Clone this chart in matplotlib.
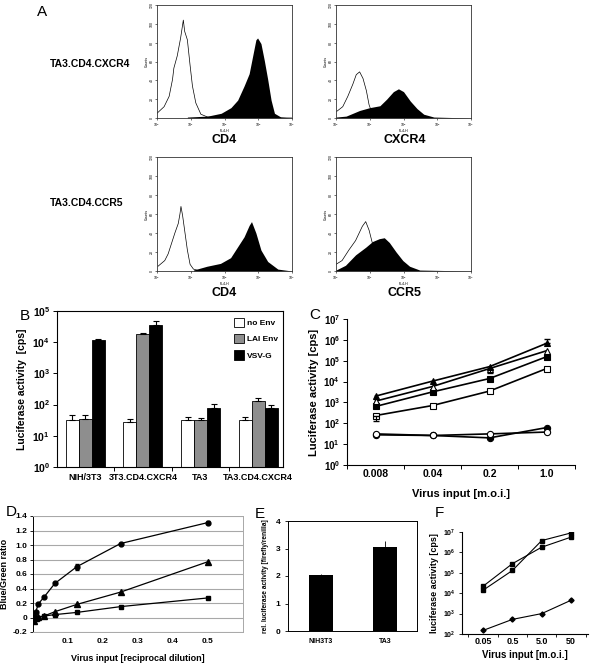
import numpy as np
import matplotlib
matplotlib.use('Agg')
import matplotlib.pyplot as plt
from matplotlib.patches import Patch
from matplotlib.ticker import FixedLocator, NullLocator

plt.rcParams['font.family'] = ['Liberation Sans', 'DejaVu Sans']
plt.rcParams['mathtext.fontset'] = 'custom'
plt.rcParams['mathtext.rm'] = 'Liberation Sans:bold'
plt.rcParams['mathtext.it'] = 'Liberation Sans:bold'
plt.rcParams['mathtext.bf'] = 'Liberation Sans:bold'
plt.rcParams['axes.linewidth'] = 0.8

# ---------------- data ----------------
# Panel A: flow cytometry histograms (log10 fluorescence, counts)
tl_open_logx = [0, 0.21, 0.36, 0.46, 0.50, 0.60, 0.70, 0.78, 0.82, 0.90, 0.98, 1.05, 1.15, 1.30, 1.50, 4.0]
tl_open_cnt = [5, 12, 23, 41, 53, 66, 85, 104, 92, 83, 56, 34, 16, 4, 1, 0]
tl_fill_logx = [0.9, 1.5, 1.9, 2.19, 2.39, 2.58, 2.73, 2.83, 2.93, 2.98, 3.08, 3.18, 3.28, 3.38, 3.48, 3.67, 4.0]
tl_fill_cnt = [1, 2, 5, 11, 19, 34, 47, 65, 83, 85, 79, 61, 41, 19, 5, 1, 0]

tr_open_logx = [0.02, 0.2, 0.35, 0.5, 0.6, 0.7, 0.8, 0.9, 0.98, 1.05, 1.2, 1.4]
tr_open_cnt = [7, 12, 23, 36, 46, 49, 42, 29, 14, 7, 2, 0]
tr_fill_logx = [0, 0.3, 0.7, 1.0, 1.3, 1.5, 1.7, 1.85, 2.0, 2.2, 2.4, 2.6, 2.9, 4.0]
tr_fill_cnt = [1, 2, 8, 11, 13, 20, 28, 31, 28, 18, 10, 4, 1, 0]

bl_open_logx = [0.03, 0.23, 0.33, 0.43, 0.53, 0.63, 0.68, 0.71, 0.76, 0.83, 0.90, 0.98, 1.08, 1.28]
bl_open_cnt = [5, 11, 18, 29, 40, 50, 60, 68, 58, 40, 22, 7, 2, 0]
bl_fill_logx = [1.08, 1.48, 1.88, 2.18, 2.38, 2.58, 2.73, 2.80, 2.93, 3.08, 3.28, 3.58, 4.0]
bl_fill_cnt = [1, 5, 8, 14, 25, 36, 48, 52, 40, 22, 10, 2, 0]

br_open_logx = [0, 0.18, 0.38, 0.58, 0.78, 0.88, 0.98, 1.08, 1.18, 1.33, 1.48]
br_open_cnt = [7, 11, 22, 32, 47, 52, 43, 29, 14, 4, 0]
br_fill_logx = [0, 0.28, 0.58, 0.88, 1.08, 1.28, 1.43, 1.58, 1.78, 1.98, 2.18, 2.48, 4.0]
br_fill_cnt = [1, 6, 17, 25, 31, 34, 35, 30, 20, 11, 5, 1, 0]

hist_xticklabels = ['10$^0$', '10$^1$', '10$^2$', '10$^3$', '10$^4$']

# Panel B
b_groups = ['NIH/3T3', '3T3.CD4.CXCR4', 'TA3', 'TA3.CD4.CXCR4']
b_series = ['no Env', 'LAI Env', 'VSV-G']
b_no_env = [32, 27, 31, 32]
b_no_env_err = [13, 8, 9, 7]
b_lai = [34, 18000, 31, 130]
b_lai_err = [12, 1200, 6, 30]
b_vsv = [12000, 35000, 80, 80]
b_vsv_err = [400, 12000, 25, 20]

# Panel C
c_moi = ['0.008', '0.04', '0.2', '1.0']
c_tri_filled = [2000, 10500, 52000, 680000]
c_tri_open = [1150, 5800, 42000, 300000]
c_sq_filled = [640, 3200, 14000, 155000]
c_sq_open = [235, 710, 3500, 42000]
c_circ_open = [31, 26, 31, 38]
c_circ_filled = [28, 26, 20, 62]

# Panel D
d_dilution = [1/256, 1/128, 1/64, 1/32, 1/16, 1/8, 1/4, 1/2]
d_circle = [0.01, 0.08, 0.19, 0.28, 0.47, 0.70, 1.02, 1.31]
d_circle_err = [0, 0, 0, 0, 0, 0.04, 0, 0.02]
d_triangle = [-0.05, 0.0, 0.01, 0.02, 0.08, 0.18, 0.35, 0.77]
d_square = [0.0, -0.01, 0.0, 0.02, 0.04, 0.07, 0.15, 0.27]

# Panel E
e_cells = ['NIH3T3', 'TA3']
e_vals = [2.02, 3.07]
e_err = [0.05, 0.2]

# Panel F
f_moi = ['0.05', '0.5', '5.0', '50']
f_s1 = [22000, 280000, 1800000, 5600000]
f_s2 = [14000, 130000, 3800000, 9000000]
f_s3 = [150, 520, 1000, 4500]

# ---------------- figure ----------------
W, H = 596, 664
fig = plt.figure(figsize=(W / 100, H / 100), dpi=100)


def rect(x0, y0, x1, y1):
    return [x0 / W, 1 - y1 / H, (x1 - x0) / W, (y1 - y0) / H]


def log_labels(lo, hi):
    return [r'$10^{%d}$' % k for k in range(lo, hi + 1)]


def hist_panel(r, fill_lx, fill_c, open_lx, open_c):
    ax = fig.add_axes(rect(*r))
    ax.set_xscale('log')
    ax.set_xlim(1, 1e4)
    ax.set_ylim(0, 120)
    ax.fill_between(10 ** np.array(fill_lx), fill_c, 0, color='black', lw=0)
    ax.plot(10 ** np.array(open_lx), open_c, color='black', lw=0.5)
    ax.xaxis.set_major_locator(FixedLocator([1, 10, 100, 1000, 10000]))
    ax.xaxis.set_minor_locator(NullLocator())
    ax.set_xticklabels(hist_xticklabels, fontsize=2.5)
    ax.set_yticks(range(0, 121, 20))
    ax.set_yticklabels([str(v) for v in range(0, 121, 20)], fontsize=2.5, rotation=90, va='center')
    ax.tick_params(length=1.5, width=0.4, pad=0.8)
    ax.set_xlabel('FL4-H', fontsize=2.5, labelpad=0.5)
    ax.set_ylabel('Counts', fontsize=2.5, labelpad=0.5)
    for s in ax.spines.values():
        s.set_linewidth(0.6)
        s.set_color('#333333')
    return ax


hist_panel((157, 5, 292, 118), tl_fill_logx, tl_fill_cnt, tl_open_logx, tl_open_cnt)
hist_panel((336, 5, 471, 118), tr_fill_logx, tr_fill_cnt, tr_open_logx, tr_open_cnt)
hist_panel((157, 157, 292, 271), bl_fill_logx, bl_fill_cnt, bl_open_logx, bl_open_cnt)
hist_panel((336, 157, 471, 271), br_fill_logx, br_fill_cnt, br_open_logx, br_open_cnt)


def ftext(x, y, s, **kw):
    fig.text(x / W, 1 - y / H, s, **kw)


ftext(42, 12, 'A', fontsize=11, va='center', ha='center')
ftext(50, 64, 'TA3.CD4.CXCR4', fontsize=7.5, fontweight='bold', va='center')
ftext(50, 203, 'TA3.CD4.CCR5', fontsize=7.5, fontweight='bold', va='center')
ftext(224, 140, 'CD4', fontsize=9, fontweight='bold', ha='center', va='center')
ftext(405, 140, 'CXCR4', fontsize=9, fontweight='bold', ha='center', va='center')
ftext(224, 293, 'CD4', fontsize=9, fontweight='bold', ha='center', va='center')
ftext(405, 293, 'CCR5', fontsize=9, fontweight='bold', ha='center', va='center')

# ---------------- Panel B ----------------
axB = fig.add_axes(rect(57, 311, 283, 467))
axB.set_yscale('log')
axB.set_ylim(1, 1e5)
xb = np.arange(len(b_groups))
wb = 0.226
ekw = dict(capsize=2, elinewidth=0.8, capthick=0.8, ecolor='black')
for off, vals, errs, col in [(-wb, b_no_env, b_no_env_err, 'white'),
                             (0, b_lai, b_lai_err, '#8e8e8e'),
                             (wb, b_vsv, b_vsv_err, 'black')]:
    v = np.array(vals, dtype=float)
    axB.bar(xb + off, v - 1, wb, bottom=1, color=col, edgecolor='black', lw=0.6,
            yerr=[np.zeros(len(v)), errs], error_kw=ekw)
axB.set_xlim(-0.49, 3.43)
axB.xaxis.set_major_locator(FixedLocator(xb))
axB.set_xticklabels(b_groups, fontsize=6.5, fontweight='bold')
axB.xaxis.set_minor_locator(FixedLocator([0.5, 1.5, 2.5]))
axB.tick_params(axis='x', which='major', length=0, pad=4)
axB.tick_params(axis='x', which='minor', length=3, width=0.7)
axB.yaxis.set_major_locator(FixedLocator([10 ** k for k in range(6)]))
axB.yaxis.set_minor_locator(NullLocator())
axB.set_yticklabels(log_labels(0, 5), fontsize=7.5)
axB.tick_params(axis='y', length=3, width=0.7, pad=2)
axB.set_ylabel('Luciferase activity  [cps]', fontsize=7.5, fontweight='bold', labelpad=4)
handles = [Patch(facecolor=c, edgecolor='black', lw=0.6) for c in ['white', '#8e8e8e', 'black']]
axB.legend(handles, b_series, loc='upper right', frameon=False, bbox_to_anchor=(1.0, 0.99),
           prop={'size': 6, 'weight': 'bold'}, handlelength=1.1, handleheight=1.4,
           labelspacing=0.8, handletextpad=0.4, borderaxespad=0.2)
ftext(25, 316, 'B', fontsize=11, va='center', ha='center')

# ---------------- Panel C ----------------
axC = fig.add_axes(rect(347, 319, 575, 465))
axC.set_yscale('log')
axC.set_ylim(1, 1e7)
axC.set_xlim(-0.5, 3.5)
xc = np.arange(len(c_moi))
for vals, m, mfc in [(c_circ_filled, 'o', 'black'), (c_circ_open, 'o', 'white'),
                     (c_sq_open, 's', 'white'), (c_sq_filled, 's', 'black'),
                     (c_tri_open, '^', 'white'), (c_tri_filled, '^', 'black')]:
    axC.plot(xc, vals, marker=m, color='black', mfc=mfc, mec='black', ms=4.5, mew=0.8, lw=1.2)
axC.errorbar([3], [c_tri_filled[3]], yerr=[[0], [420000]], fmt='none', ecolor='black', capsize=2, elinewidth=0.8)
axC.errorbar([0], [c_sq_open[0]], yerr=[[100], [0]], fmt='none', ecolor='black', capsize=2, elinewidth=0.8)
axC.errorbar([2], [c_tri_open[2]], yerr=[[17000], [0]], fmt='none', ecolor='black', capsize=2, elinewidth=0.8)
axC.spines['top'].set_visible(False)
axC.spines['right'].set_visible(False)
axC.xaxis.set_major_locator(FixedLocator(xc))
axC.set_xticklabels(c_moi, fontsize=7.5, fontweight='bold')
axC.xaxis.set_minor_locator(FixedLocator([-0.5, 0.5, 1.5, 2.5, 3.5]))
axC.tick_params(axis='x', which='major', length=0, pad=3)
axC.tick_params(axis='x', which='minor', length=3, width=0.7)
axC.yaxis.set_major_locator(FixedLocator([10 ** k for k in range(8)]))
axC.yaxis.set_minor_locator(NullLocator())
axC.set_yticklabels(log_labels(0, 7), fontsize=7)
axC.tick_params(axis='y', length=3, width=0.7, pad=2)
axC.set_ylabel('Luciferase activity [cps]', fontsize=8, fontweight='bold', labelpad=3)
axC.set_xlabel('Virus input [m.o.i.]', fontsize=8, fontweight='bold', labelpad=7)
ftext(315, 315, 'C', fontsize=11, va='center', ha='center')

# ---------------- Panel D ----------------
axD = fig.add_axes(rect(33, 516, 243, 632))
axD.set_xlim(0, 0.6)
axD.set_ylim(-0.2, 1.4)
dyt = np.round(np.arange(-0.2, 1.41, 0.2), 1)
axD.set_yticks(dyt)
axD.set_yticklabels(['-0.2', '0', '0.2', '0.4', '0.6', '0.8', '1.0', '1.2', '1.4'], fontsize=6, fontweight='bold')
axD.yaxis.grid(True, color='#a8a8a8', lw=0.8)
axD.set_axisbelow(True)
axD.set_xticks([0.1, 0.2, 0.3, 0.4, 0.5])
axD.set_xticklabels(['0.1', '0.2', '0.3', '0.4', '0.5'], fontsize=6, fontweight='bold')
axD.tick_params(axis='x', length=0, pad=4)
axD.tick_params(axis='y', length=2, width=0.6, pad=2)
for k, s in axD.spines.items():
    s.set_linewidth(0.7)
    s.set_color('black' if k == 'left' else '#a8a8a8')
axD.plot(d_dilution, d_square, marker='s', color='black', ms=3.5, lw=0.9)
axD.plot(d_dilution, d_triangle, marker='^', color='black', ms=3.8, lw=0.9)
axD.errorbar(d_dilution, d_circle, yerr=d_circle_err, marker='o', color='black', ms=3.5, lw=0.9,
             capsize=1.5, elinewidth=0.6)
axD.set_ylabel('Blue/Green ratio', fontsize=6.5, fontweight='bold', labelpad=3)
axD.set_xlabel('Virus input [reciprocal dilution]', fontsize=6.5, fontweight='bold', labelpad=7)
ftext(11, 512, 'D', fontsize=11, va='center', ha='center')

# ---------------- Panel E ----------------
axE = fig.add_axes(rect(288, 521, 417, 631))
xe = np.arange(len(e_cells))
axE.bar(xe, e_vals, 0.39, color='black', yerr=[[0, 0], e_err],
        error_kw=dict(capsize=0, elinewidth=0.6, ecolor='black'))
axE.set_xlim(-0.516, 1.5)
axE.set_ylim(0, 4)
axE.set_yticks([0, 1, 2, 3, 4])
axE.set_yticklabels(['0', '1', '2', '3', '4'], fontsize=6, fontweight='bold')
axE.set_xticks(xe)
axE.set_xticklabels(e_cells, fontsize=5, fontweight='bold')
axE.tick_params(axis='x', length=0, pad=5)
axE.tick_params(axis='y', length=2.5, width=0.6, pad=3)
for s in axE.spines.values():
    s.set_linewidth(0.7)
axE.set_ylabel('rel. luciferase activity [firefly/renilla]', fontsize=4.8, fontweight='bold', labelpad=5)
ftext(260, 514, 'E', fontsize=11, va='center', ha='center')

# ---------------- Panel F ----------------
axF = fig.add_axes(rect(462, 532, 588, 634))
axF.set_yscale('log')
axF.set_ylim(1e2, 1e7)
axF.set_xlim(-0.72, 3.58)
xf = np.arange(len(f_moi))
for vals, m in [(f_s1, 's'), (f_s2, 's'), (f_s3, 'D')]:
    axF.plot(xf, vals, marker=m, color='black', ms=2.6, lw=0.8)
axF.spines['top'].set_visible(False)
axF.spines['right'].set_visible(False)
axF.xaxis.set_major_locator(FixedLocator(xf))
axF.set_xticklabels(f_moi, fontsize=6.5, fontweight='bold')
axF.xaxis.set_minor_locator(FixedLocator([-0.5, 0.5, 1.5, 2.5, 3.5]))
axF.tick_params(axis='x', which='major', length=0, pad=2)
axF.tick_params(axis='x', which='minor', length=2.5, width=0.6)
axF.yaxis.set_major_locator(FixedLocator([10 ** k for k in range(2, 8)]))
axF.yaxis.set_minor_locator(NullLocator())
axF.set_yticklabels(log_labels(2, 7), fontsize=5)
axF.tick_params(axis='y', length=2.5, width=0.6, pad=2)
axF.set_ylabel('luciferase activity [cps]', fontsize=6.5, fontweight='bold', labelpad=3)
axF.set_xlabel('Virus input [m.o.i.]', fontsize=7, fontweight='bold', labelpad=3)
ftext(439, 513, 'F', fontsize=11, va='center', ha='center')

fig.savefig('out.png', dpi=100, facecolor='white')
